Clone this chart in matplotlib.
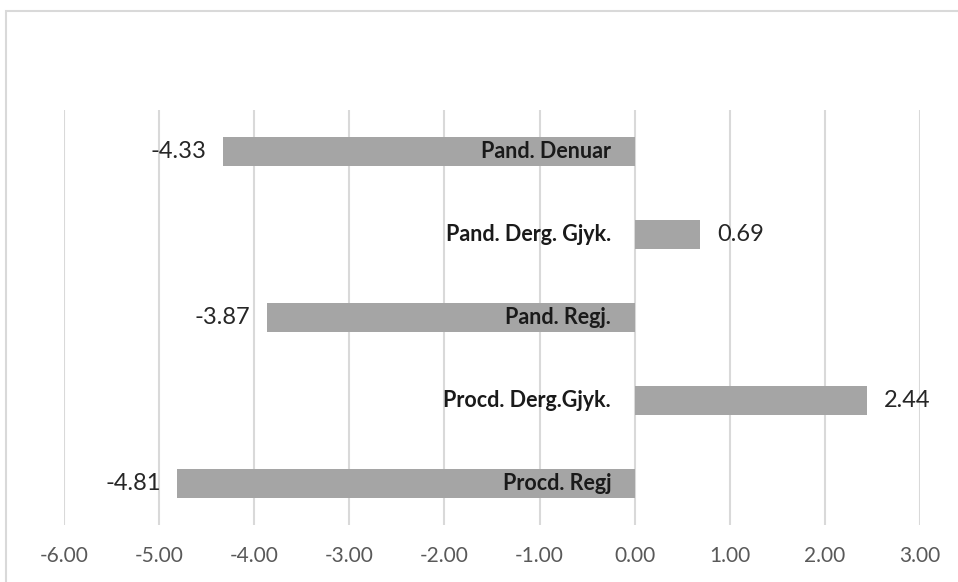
import matplotlib
matplotlib.use("Agg")
import matplotlib.pyplot as plt
from matplotlib.patches import Rectangle

# top to bottom, as in the chart
categories = ["Pand. Denuar", "Pand. Derg. Gjyk.", "Pand. Regj.",
              "Procd. Derg.Gjyk.", "Procd. Regj"]
values = [-4.33, 0.69, -3.87, 2.44, -4.81]
xticks = [-6, -5, -4, -3, -2, -1, 0, 1, 2, 3]

plt.rcParams['font.family'] = ['Lato', 'DejaVu Sans']

fig = plt.figure(figsize=(9.58, 5.82), dpi=100)
fig.patches.append(Rectangle((6/958, -0.1), 1.1, 1 - 11/582 + 0.1,
                             transform=fig.transFigure, fill=False,
                             edgecolor='#d9d9d9', lw=1.5))
ax = fig.add_axes([64/958, 1 - 525/582, 856/958, 415/582])

y = list(range(len(categories)))
ax.barh(y, values, height=0.35, color='#a5a5a5', zorder=2)
ax.set_ylim(len(categories) - 0.5, -0.5)
ax.set_xlim(-6, 3)
ax.set_xticks(xticks)
ax.set_xticklabels(["%.2f" % t for t in xticks], color='#595959', fontsize=15)
ax.tick_params(axis='x', length=0, pad=15)
ax.set_yticks([])
for s in ax.spines.values():
    s.set_visible(False)
ax.grid(axis='x', color='#d9d9d9', lw=1.5, zorder=0)

for yi, v, c in zip(y, values, categories):
    ax.annotate(c, (0, yi), xytext=(-17, 0), textcoords='offset points',
                ha='right', va='center', fontsize=15.5, fontweight='bold',
                color='#1a1a1a', zorder=3)
    ax.annotate("%.2f" % v, (v, yi), xytext=(12 if v > 0 else -12, 0),
                textcoords='offset points',
                ha='left' if v > 0 else 'right', va='center',
                fontsize=17, color='#262626', zorder=3)

fig.savefig("out.png", dpi=100)
